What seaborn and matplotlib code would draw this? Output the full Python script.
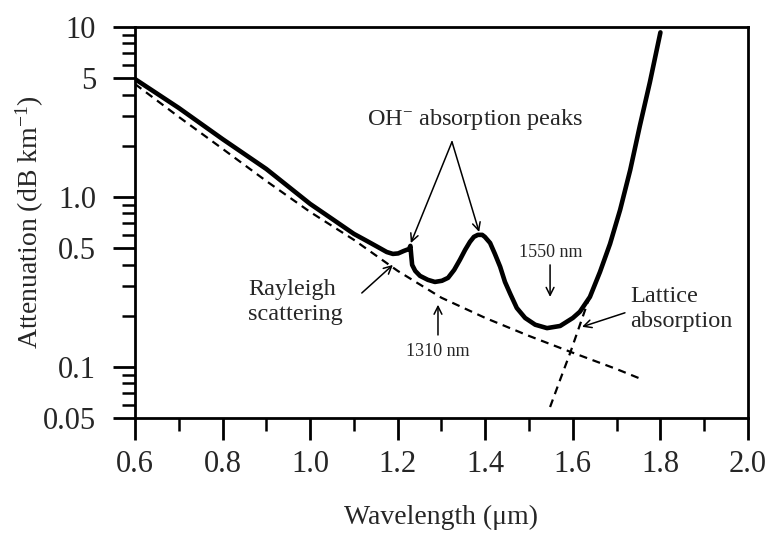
import pandas as pd
import matplotlib.pyplot as plt
import matplotlib.ticker as mticker
import seaborn as sns

# total fibre attenuation
wavelength = [0.60, 0.70, 0.80, 0.90, 1.00, 1.05, 1.10, 1.125, 1.15, 1.175,
              1.189, 1.201, 1.214, 1.226, 1.229, 1.231, 1.233, 1.240, 1.251,
              1.269, 1.285, 1.301, 1.315, 1.329, 1.342, 1.354, 1.365, 1.374,
              1.383, 1.393, 1.399, 1.411, 1.422, 1.434, 1.445, 1.457, 1.472,
              1.491, 1.514, 1.541, 1.571, 1.600, 1.616, 1.639, 1.662, 1.685,
              1.708, 1.731, 1.753, 1.776, 1.800]
attenuation = [4.94, 3.34, 2.19, 1.46, 0.91, 0.743, 0.606, 0.559, 0.515, 0.474,
               0.462, 0.465, 0.481, 0.494, 0.515, 0.45, 0.398, 0.367, 0.343,
               0.325, 0.316, 0.321, 0.334, 0.372, 0.426, 0.488, 0.544, 0.582,
               0.598, 0.598, 0.582, 0.536, 0.462, 0.388, 0.316, 0.269, 0.222,
               0.194, 0.177, 0.169, 0.174, 0.194, 0.211, 0.258, 0.362, 0.530,
               0.840, 1.44, 2.62, 4.74, 9.3]

# Rayleigh scattering limit (dashed)
rayleigh_wl = [0.60, 0.70, 0.80, 0.90, 1.00, 1.10, 1.20, 1.30, 1.40, 1.50, 1.60, 1.70, 1.75]
rayleigh_att = [4.62, 2.96, 1.92, 1.24, 0.816, 0.559, 0.367, 0.255, 0.194, 0.152, 0.121, 0.097, 0.086]

# infrared lattice absorption tail (dashed)
lattice_wl = [1.548, 1.571, 1.594, 1.636]
lattice_att = [0.058, 0.084, 0.121, 0.248]

y_ticks = [0.05, 0.1, 0.5, 1.0, 5, 10]
y_ticklabels = ['0.05', '0.1', '0.5', '1.0', '5', '10']

total = pd.DataFrame({'wl': wavelength, 'att': attenuation})
rayleigh = pd.DataFrame({'wl': rayleigh_wl, 'att': rayleigh_att})
lattice = pd.DataFrame({'wl': lattice_wl, 'att': lattice_att})

sns.set_theme(style='ticks')
plt.rcParams['font.family'] = ['Liberation Serif', 'DejaVu Serif']
plt.rcParams['mathtext.fontset'] = 'custom'
plt.rcParams['mathtext.rm'] = 'Liberation Serif'
plt.rcParams['mathtext.it'] = 'Liberation Serif:italic'

fig = plt.figure(figsize=(7.66, 5.33), dpi=100)
ax = fig.add_axes([0.1762, 0.2158, 0.8003, 0.7335])

sns.lineplot(data=total, x='wl', y='att', ax=ax, color='black', lw=3.3,
             estimator=None, sort=False,
             solid_joinstyle='round', solid_capstyle='round')
sns.lineplot(data=rayleigh, x='wl', y='att', ax=ax, color='black', lw=1.6,
             estimator=None, sort=False, linestyle=(0, (3.6, 2.6)))
sns.lineplot(data=lattice, x='wl', y='att', ax=ax, color='black', lw=1.6,
             estimator=None, sort=False, linestyle=(0, (3.6, 2.6)))

ax.set_yscale('log')
ax.set_xlim(0.6, 2.0)
ax.set_ylim(0.05, 10)

ax.xaxis.set_major_locator(mticker.MultipleLocator(0.2))
ax.xaxis.set_minor_locator(mticker.MultipleLocator(0.1))
ax.xaxis.set_major_formatter(mticker.FormatStrFormatter('%.1f'))
ax.yaxis.set_major_locator(mticker.FixedLocator(y_ticks))
ax.yaxis.set_major_formatter(mticker.FixedFormatter(y_ticklabels))
ax.yaxis.set_minor_locator(mticker.LogLocator(base=10, subs=range(2, 10)))
ax.yaxis.set_minor_formatter(mticker.NullFormatter())

ax.tick_params(which='major', direction='out', length=16, width=2, labelsize=22, color='black')
ax.tick_params(which='minor', direction='out', length=9.5, width=1.8, color='black')
ax.tick_params(axis='y', which='major', pad=12)
ax.tick_params(axis='x', which='major', pad=7)
for s in ax.spines.values():
    s.set_linewidth(2)
    s.set_color('black')

ax.set_xlabel('Wavelength (μm)', fontsize=20)
ax.set_ylabel('Attenuation (dB km$^{-1}$)', fontsize=20)
ax.xaxis.set_label_coords(0.5, -0.222)
ax.yaxis.set_label_coords(-0.145, 0.5)

arrow = dict(arrowstyle='->', lw=1.1, color='black', shrinkA=0, shrinkB=0, mutation_scale=14)

ax.text(1.377, 2.84, 'OH$^{-}$ absorption peaks', fontsize=17.5, ha='center', va='center')
ax.annotate('', xy=(1.230, 0.535), xytext=(1.324, 2.11), arrowprops=arrow)
ax.annotate('', xy=(1.386, 0.622), xytext=(1.324, 2.11), arrowprops=arrow)

ax.text(0.858, 0.241, 'Rayleigh\nscattering', fontsize=17.5, ha='left', va='center')
ax.annotate('', xy=(1.189, 0.398), xytext=(1.118, 0.272), arrowprops=arrow)

ax.text(1.292, 0.1225, '1310 nm', fontsize=13, ha='center', va='center')
ax.annotate('', xy=(1.292, 0.232), xytext=(1.292, 0.154), arrowprops=arrow)

ax.text(1.550, 0.469, '1550 nm', fontsize=13, ha='center', va='center')
ax.annotate('', xy=(1.548, 0.258), xytext=(1.548, 0.398), arrowprops=arrow)

ax.text(1.731, 0.219, 'Lattice\nabsorption', fontsize=17.5, ha='left', va='center')
ax.annotate('', xy=(1.621, 0.172), xytext=(1.719, 0.208), arrowprops=arrow)

fig.savefig('out.png', dpi=100)
